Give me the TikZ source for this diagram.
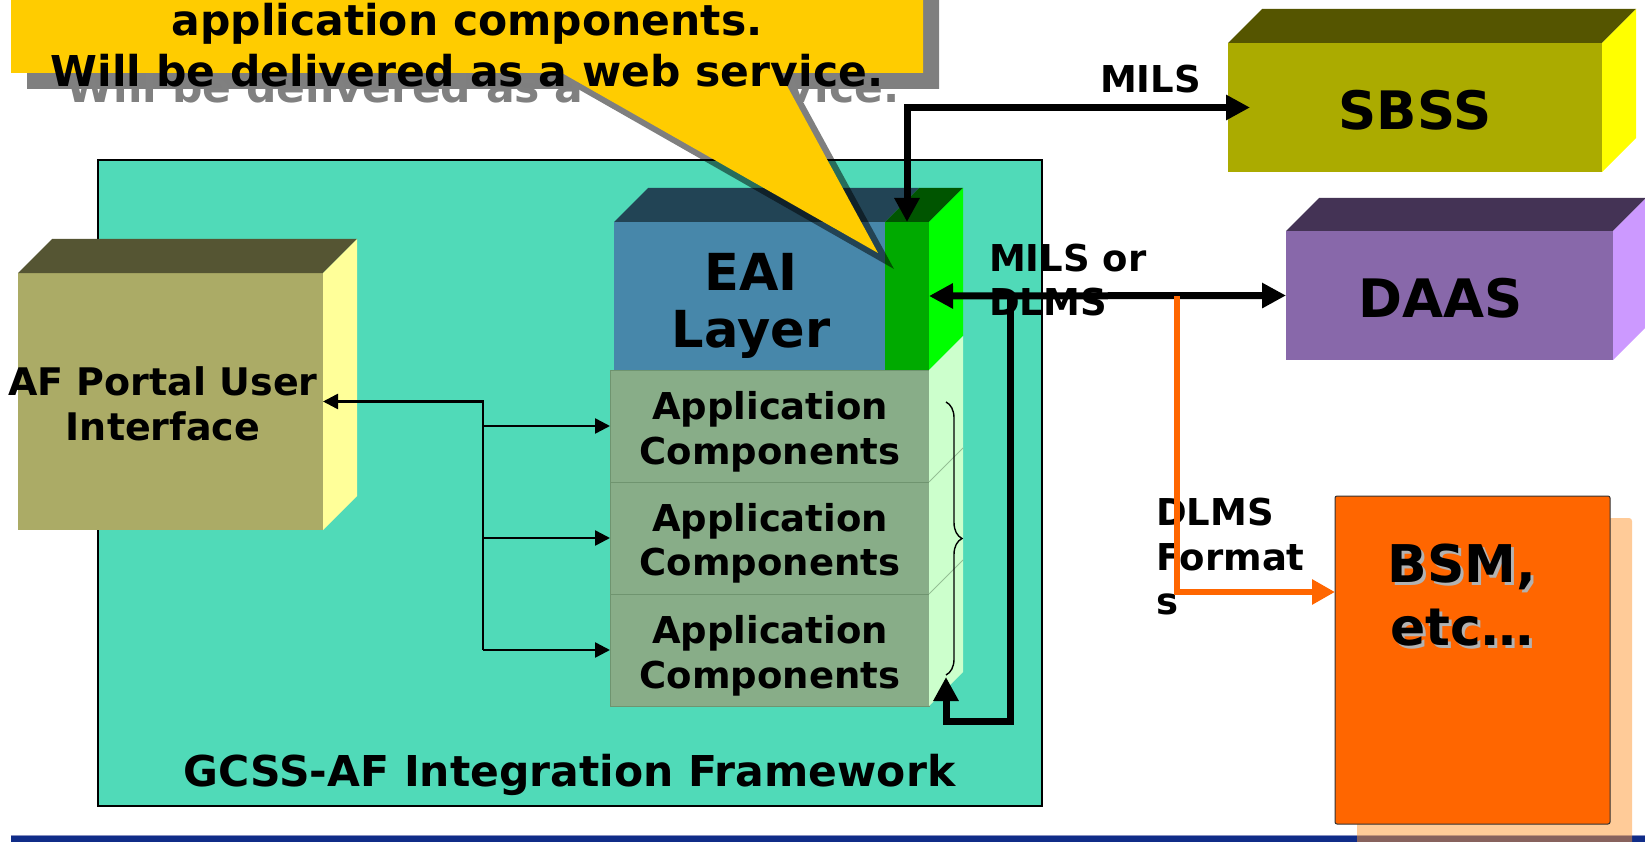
\documentclass[tikz,border=0pt]{standalone}
\usepackage{fontspec}
\setmainfont{DejaVu Sans}
\usetikzlibrary{arrows.meta,calc,decorations.pathreplacing}
\definecolor{tealbg}{HTML}{50DAB8}
\definecolor{eaiF}{HTML}{4787AA}
\definecolor{eaiT}{HTML}{224455}
\definecolor{grF}{HTML}{00AA00}
\definecolor{grT}{HTML}{005500}
\definecolor{grS}{HTML}{00FF00}
\definecolor{appF}{HTML}{88AD88}
\definecolor{appS}{HTML}{CCFFCC}
\definecolor{appL}{HTML}{6F946F}
\definecolor{afF}{HTML}{ABAB66}
\definecolor{afT}{HTML}{555533}
\definecolor{afS}{HTML}{FFFF99}
\definecolor{sbF}{HTML}{ABAB00}
\definecolor{sbT}{HTML}{555500}
\definecolor{sbS}{HTML}{FFFF00}
\definecolor{daF}{HTML}{8868AA}
\definecolor{daT}{HTML}{443355}
\definecolor{daS}{HTML}{CC99FF}
\definecolor{bsmF}{HTML}{FF6600}
\definecolor{bsmSh}{HTML}{FF9933}
\definecolor{callY}{HTML}{FFCC00}
\definecolor{barB}{HTML}{102C88}
\definecolor{barL}{HTML}{8890C0}
\newcommand{\boxfaces}[4]{%
  \fill[#2] (#1.north west) -- ++(#4,-#4) -- ($(#1.north east)+(#4,-#4)$) -- (#1.north east) -- cycle;
  \fill[#3] (#1.north east) -- ++(#4,-#4) -- ($(#1.south east)+(#4,-#4)$) -- (#1.south east) -- cycle;}
\tikzset{
  bigtip/.tip={Triangle[length=24pt,width=24pt]},
  smalltip/.tip={Triangle[length=15pt,width=15pt]},
  orangetip/.tip={Triangle[length=23pt,width=24pt]},
  facebox/.style={inner sep=0pt, outer sep=0pt, anchor=north west},
  thickline/.style={line width=7pt, draw=black},
  thinline/.style={line width=2.5pt, draw=black},
  orangeline/.style={line width=6pt, draw=bsmF},
  txt/.style={inner sep=0pt, outer sep=0pt, font=\fontsize{#1}{#1}\selectfont\bfseries},
}
\begin{document}
\begin{tikzpicture}[x=1pt,y=-1pt]
\useasboundingbox (0,0) rectangle (1645,842);
\fill[white] (0,0) rectangle (1645,842);

% framework
\node[facebox, fill=tealbg, draw=black, line width=2pt, minimum width=944pt, minimum height=645pt] (frame) at (97.5,160.5) {};

% AF portal box
\node[facebox, fill=afF, minimum width=305pt, minimum height=257pt] (af) at (18,273) {};
\boxfaces{af}{afT}{afS}{34}

% EAI layer
\node[facebox, fill=eaiF, minimum width=271pt, minimum height=148pt] (eai) at (614,222) {};
\fill[eaiT] (eai.north west) -- ++(34,-34) -- ($(eai.north east)+(34,-34)$) -- (eai.north east) -- cycle;
\node[facebox, fill=grF, minimum width=44pt, minimum height=148pt] (green) at (885,222) {};
\boxfaces{green}{grT}{grS}{34}

% application components
\node[facebox, fill=appF, draw=appL, line width=0.8pt, minimum width=319pt, minimum height=112pt] (app1) at (610,370) {};
\node[facebox, fill=appF, draw=appL, line width=0.8pt, minimum width=319pt, minimum height=112pt] (app2) at (610,482) {};
\node[facebox, fill=appF, draw=appL, line width=0.8pt, minimum width=319pt, minimum height=112pt] (app3) at (610,594) {};
\fill[appS] (app1.north east) -- ++(34,-34) -- ($(app3.south east)+(34,-34)$) -- (app3.south east) -- cycle;
\draw[appL!60!appS, line width=0.8pt] (app1.south east) -- ++(34,-34);
\draw[appL!60!appS, line width=0.8pt] (app2.south east) -- ++(34,-34);
\draw[line width=1.4pt, decorate, decoration={brace, amplitude=16pt}] (946,402) -- (946,675);

% external systems
\node[facebox, fill=sbF, minimum width=374pt, minimum height=129pt] (sbss) at (1228,43) {};
\boxfaces{sbss}{sbT}{sbS}{34}
\node[facebox, fill=daF, minimum width=327pt, minimum height=129pt] (daas) at (1286,231) {};
\boxfaces{daas}{daT}{daS}{33}

% bottom bar
\fill[barB] (10.5,835) rectangle (1645,842);
\draw[barL, line width=1.2pt] (10.5,835.6) -- (1645,835.6);

% BSM box
\fill[bsmSh, opacity=0.5, rounded corners=3pt] (1357,518) rectangle (1632,880);
\node[facebox, fill=bsmF, draw=black!80, line width=1pt, rounded corners=2pt, minimum width=275pt, minimum height=328pt] (bsm) at (1335,496) {};

% texts in boxes
\node[txt=38, anchor=base] (aft1) at (163,395) {AF Portal User};
\node[txt=38, anchor=base] (aft2) at (163,440) {Interface};
\node[txt=51, anchor=base] (eait1) at (751,290) {EAI};
\node[txt=51, anchor=base] (eait2) at (751,347) {Layer};
\node[txt=37, anchor=base] (a1t1) at (770,419) {Application};
\node[txt=37, anchor=base] (a1t2) at (770,464) {Components};
\node[txt=37, anchor=base] (a2t1) at (770,531) {Application};
\node[txt=37, anchor=base] (a2t2) at (770,575) {Components};
\node[txt=37, anchor=base] (a3t1) at (770,643) {Application};
\node[txt=37, anchor=base] (a3t2) at (770,688) {Components};
\node[txt=53, anchor=base] (sbt) at (1415,130) {SBSS};
\node[txt=53, anchor=base] (dat) at (1441,317) {DAAS};
\node[txt=52, anchor=base, text=black!30] (bsh1) at (1465,585) {BSM,};
\node[txt=52, anchor=base, text=black!30] (bsh2) at (1465,648) {etc…};
\node[txt=52, anchor=base] (bt1) at (1462,582) {BSM,};
\node[txt=52, anchor=base] (bt2) at (1462,645) {etc…};
\node[txt=42.5, anchor=base] (gcss) at (569.5,786) {GCSS-AF Integration Framework};

% connector labels
\node[txt=37, anchor=base west] (milsL) at (1100,93) {MILS};
\node[txt=37, anchor=base west] (mdl1) at (989,272) {MILS or};
\node[txt=37, anchor=base west] (mdl2) at (989,315) {DLMS};
\node[txt=37, anchor=base west] (dfl1) at (1156,525) {DLMS};
\node[txt=37, anchor=base west] (dfl2) at (1156,570) {Format};
\node[txt=37, anchor=base west] (dfl3) at (1156,614) {s};

% connectors
\coordinate (j0) at (483,401.5);
\draw[thinline, smalltip-] (af.east) -- (j0) -- (j0 |- app3.west);
\draw[thinline, -smalltip] (j0 |- app1.west) -- (app1.west);
\draw[thinline, -smalltip] (j0 |- app2.west) -- (app2.west);
\draw[thinline, -smalltip] (j0 |- app3.west) -- (app3.west);

\coordinate (milsIn) at ([xshift=22pt]sbss.west);
\draw[thickline, bigtip-bigtip] (green.north) |- (milsIn);
\draw[thickline, bigtip-bigtip] (green.east) -- (daas.west);
\coordinate (loopA) at (1010,296);
\coordinate (loopB) at (946,721);
\coordinate (loopEnd) at (946,677);
\draw[thickline, -bigtip] (loopA) |- (loopB) -- (loopEnd);
\coordinate (orA) at (1177,296);
\coordinate (orB) at ([yshift=68pt]bsm.west);
\draw[orangeline, -orangetip] (orA) |- (orB);

% callout
\fill[black, opacity=0.5] (27,-50) -- (939,-50) -- (939,89) -- (796,89) -- (894,269) -- (578,89) -- (27,89) -- cycle;
\node[txt=42.5, anchor=base, text=black!50] (csh) at (483,103) {Will be delivered as a web service.};
\fill[callY] (11,-50) -- (923,-50) -- (923,73) -- (780,73) -- (878,253) -- (562,73) -- (11,73) -- cycle;
\node[txt=42.5, anchor=base] (c1) at (467,36) {application components.};
\node[txt=42.5, anchor=base] (c2) at (467,87) {Will be delivered as a web service.};
\end{tikzpicture}
\end{document}
